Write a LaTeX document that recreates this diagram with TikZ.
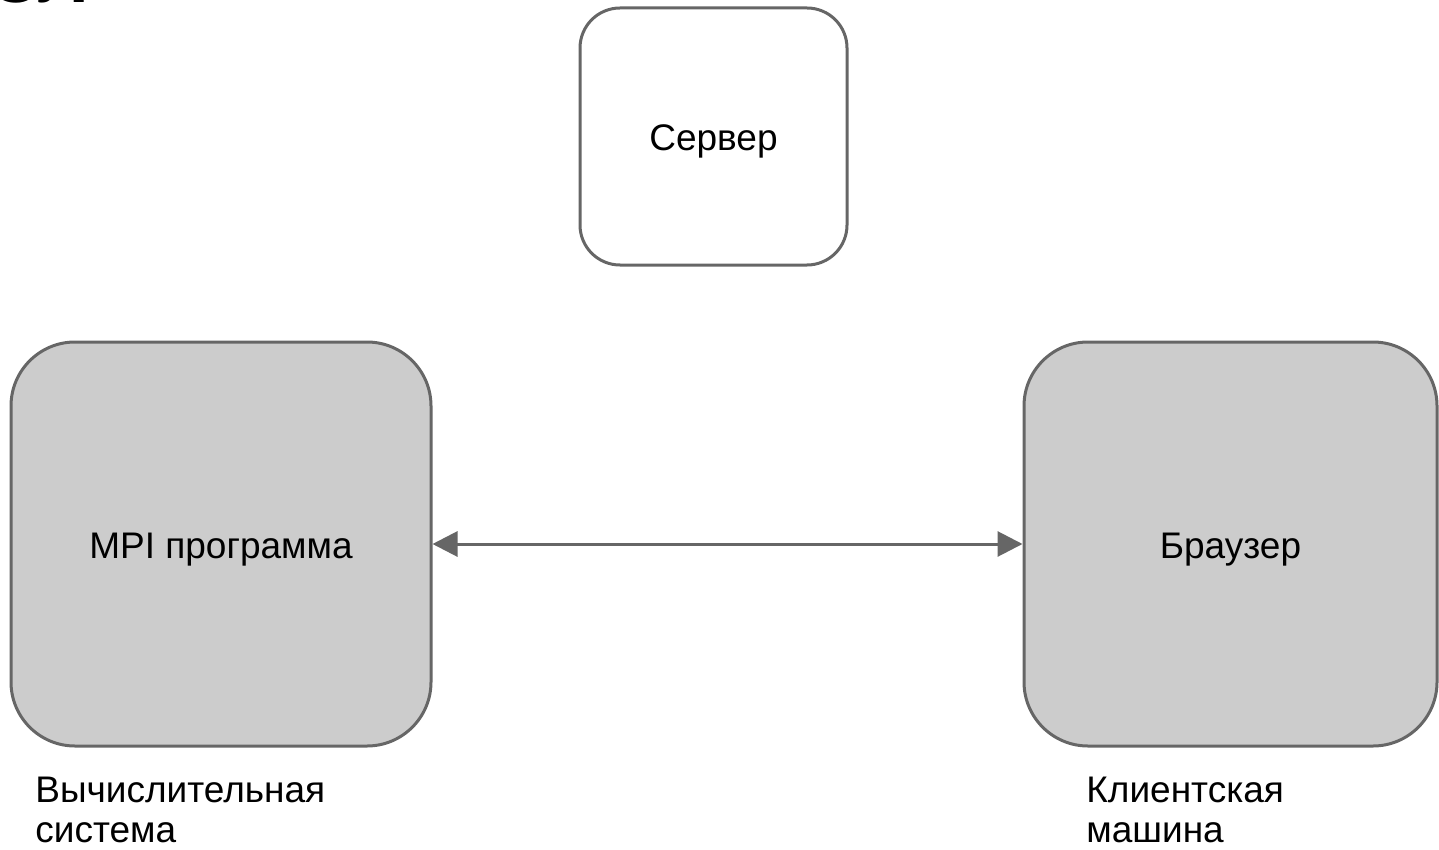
\documentclass[tikz,border=0pt]{standalone}
\usepackage{fontspec}
\setmainfont{Liberation Sans}
\usetikzlibrary{arrows.meta}
\definecolor{edgegray}{HTML}{666666}
\definecolor{boxfill}{HTML}{CCCCCC}
\begin{document}
\begin{tikzpicture}[x=0.5pt,y=-0.5pt,
  box/.style={draw=edgegray, line width=1.5pt, inner sep=0pt, text height=14pt, text depth=0pt, font=\fontsize{18.5pt}{22.5pt}\selectfont},
  lbl/.style={anchor=north west, align=left, inner sep=0pt, font=\fontsize{18.5pt}{20pt}\selectfont},
  link/.style={draw=edgegray, line width=1.5pt, {Triangle[length=12.5pt,width=12.5pt]}-{Triangle[length=12.5pt,width=12.5pt]}}]
\useasboundingbox (0,0) rectangle (1439,850);
\node[anchor=base west, inner sep=0pt, font=\fontsize{36pt}{40pt}\selectfont\bfseries] (title) at (-12,3) {СЛ};
\node[box, fill=white, rounded corners=20pt, minimum width=133.5pt, minimum height=128.5pt] (server) at (713.5,136.5) {Сервер};
\node[box, fill=boxfill, rounded corners=32pt, minimum width=210pt, minimum height=202pt] (mpi) at (221,544) {MPI программа};
\node[box, fill=boxfill, rounded corners=32pt, minimum width=206.5pt, minimum height=202pt] (browser) at (1230.5,544) {Браузер};
\draw[link] (mpi.east) -- (browser.west);
\node[lbl] (vs) at (35,777) {Вычислительная\\система};
\node[lbl] (km) at (1086,777) {Клиентская\\машина};
\end{tikzpicture}
\end{document}
